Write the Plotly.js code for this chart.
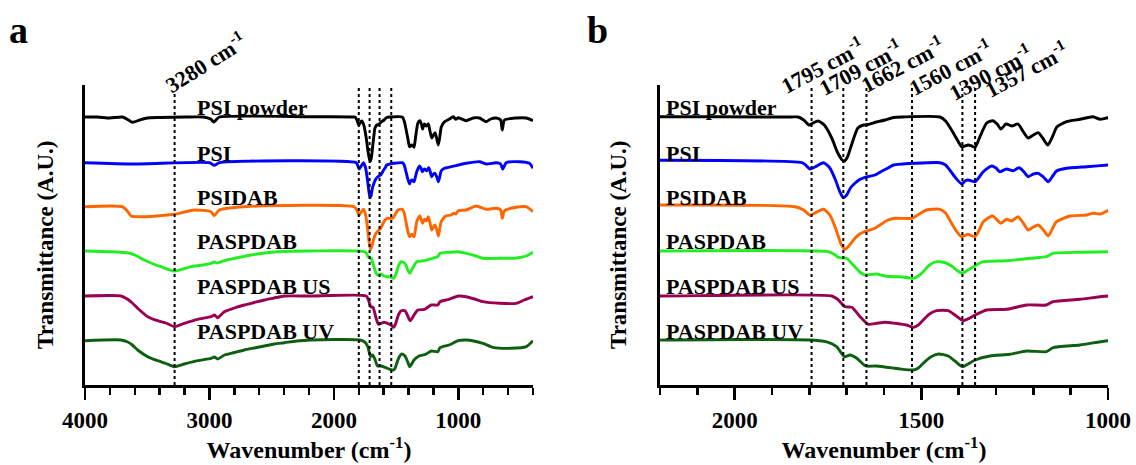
<!DOCTYPE html>
<html>
<head>
<meta charset="utf-8">
<script src="https://cdn.plot.ly/plotly-3.0.1.min.js"></script>
<style>html,body{margin:0;padding:0;background:#fff;}#chart{width:1136px;height:465px;}</style>
</head>
<body>
<div id="chart"></div>
<script>
// ---------------- DATA ----------------
const seriesNames = ['PSI powder', 'PSI', 'PSIDAB', 'PASPDAB', 'PASPDAB US', 'PASPDAB UV'];
const seriesColors = ['#000000', '#0000ff', '#ff6600', '#22ee22', '#990052', '#0f5f12'];

// Stacked transmittance (arbitrary units, already vertically offset as in the figure)
const wnPowder = [4000,3900,3800,3700,3650,3620,3560,3500,3400,3200,3050,2990,2966,2940,2920,2200,1850,1830,1815,1801,1790,1777,1760,1740,1725,1712,1706,1698,1688,1678,1670,1655,1643,1620,1597,1575,1550,1450,1435,1419,1405,1392,1383,1375,1365,1356,1343,1325,1309,1297,1287,1273,1258,1241,1228,1214,1200,1187,1175,1161,1148,1137,1111,1075,1040,1021,1000,937,880,830,776,740,695,660,647,629,535,455,400];
const tPowder  = [223,223,222,223,220,217.7,220,222,222.5,223,223,221,218,221,223,223.3,223,223,220,215,217,219,215,202,188,180,179,183,194,205,212,215,215.5,218,220,222.5,223,223,219,210,201,193.3,194,195,194,192.7,203.3,217,219.3,216,211,216,214,216,209,202,205,207.3,202,195,204,213,218.3,220.7,223.3,220.7,222.3,219.3,222,222,218.3,221,222,220,210,220,222,222,219.3];

const wnPSI = [4000,3600,3000,2961,2920,1820,1810,1798,1785,1762,1745,1730,1718,1709,1700,1690,1678,1665,1651,1624,1605,1589,1575,1550,1521,1450,1435,1424,1408,1392,1383,1375,1365,1356,1345,1334,1312,1300,1290,1272,1254,1238,1225,1214,1200,1187,1173,1160,1148,1138,1111,1057,1000,937,830,776,695,660,643,616,508,428,400];
const tPSI  = [177.3,176,177.3,174.7,177.3,177.3,175,171,173,177.3,172,160,148,142.3,145,152,156.7,160.5,162.7,165,169,172,175,176,176.7,177.3,175,170,162,156,159,160,159,158.3,163,168.3,174,172,168.3,171,169.3,172.3,168,163.3,166,166.7,163,158.3,164,169,171.7,173.3,175,176.7,178.3,176,177.3,176,171,177.3,178.3,176.7,171.7];

const wnPSIDAB = [4000,3700,3660,3630,3523,3400,3282,3121,2988,2961,2921,2720,1838,1815,1798,1785,1762,1745,1730,1715,1704,1692,1678,1665,1651,1624,1611,1589,1571,1527,1505,1486,1450,1435,1424,1408,1392,1375,1356,1345,1334,1309,1287,1272,1258,1241,1227,1214,1200,1187,1173,1160,1148,1138,1102,1057,1040,1020,1000,937,857,776,695,660,647,629,535,455,400];
const tPSIDAB  = [133.3,133.3,129,124,123.3,124.3,125.7,130,128.3,124.3,130,133.3,133.3,130,124.7,127,130.7,125,112,96,90.7,95,101.7,106,108.3,111.7,115,120,121.7,121.7,126,130,130.7,127,120,110,103.3,105.7,103.3,110,118.3,124,116.7,120.7,119,123.3,117,110,113,115,110,104,112,118.3,124,125,126.7,126,129.3,130,134,130.7,131.7,130,121.7,129.3,132.7,133.3,128.3];

const wnPASP = [4000,3800,3650,3600,3523,3450,3390,3282,3200,3149,3050,2988,2960,2940,2880,2767,2667,2560,2452,2200,1749,1735,1722,1710,1700,1690,1678,1665,1651,1635,1620,1597,1571,1557,1540,1521,1508,1495,1478,1459,1445,1432,1415,1406,1390,1375,1356,1334,1271,1209,1165,1147,1075,1000,937,870,803,669,535,455,400];
const tPASP  = [89,88.3,87,85,80,76,73.3,69,71.5,73.3,75,76.7,78,77,79.3,82.5,85,87,88.3,89,88.3,86,82.7,82,81.7,78,73.3,68,65,65.5,66,64,63.3,63.3,62.5,61.7,64,68.3,75,78.3,78,76.7,73,70,66.7,70,74.3,78.3,79.3,81.7,83.3,86.7,87.7,88.3,86.7,84.5,81.7,81.7,82,84,87.7];

const wnUS = [4000,3711,3657,3620,3577,3496,3416,3350,3282,3202,3095,2988,2960,2934,2880,2800,2720,2640,2559,2480,2398,2200,1740,1725,1704,1686,1664,1642,1620,1597,1571,1557,1540,1521,1508,1495,1478,1459,1428,1410,1388,1370,1356,1325,1271,1218,1165,1147,1075,1000,937,870,803,669,535,470,400];
const tUS  = [44,44,40.7,37,31.7,23.3,19.3,17,13.3,16.7,20.7,23.3,25,22.3,28.3,32,35,37.5,40,42,44,44,44,41,33.3,32.7,23.3,15.7,16.7,17.7,16.7,16,15,12.7,15,20,26,29.3,29.3,25,19.3,22,25,30,30.7,35,35,38.3,40.7,44,43.3,41,38.3,36.7,36.7,40,43.3];

const wnUV = [4000,3711,3657,3620,3577,3496,3416,3350,3282,3202,3095,2988,2960,2934,2880,2800,2720,2640,2559,2480,2398,2300,2184,1794,1749,1727,1706,1691,1673,1649,1620,1571,1557,1521,1508,1495,1475,1454,1428,1410,1390,1375,1356,1316,1263,1218,1165,1147,1075,1000,937,803,722,575,455,400];
const tUV  = [-0.7,0,-2,-5,-10,-16.7,-20.7,-23.5,-26.7,-24,-20.7,-18.3,-17,-19,-15,-12.5,-10,-8,-6,-4,-2.7,-1,0,0,-2.3,-6.7,-16.7,-15,-18.3,-26,-26,-28.3,-29,-30,-28,-23.3,-17,-14,-16,-21,-26.7,-24,-20,-16,-14.3,-11,-11.7,-7.7,-5,-0.7,0,-3.3,-7.3,-8.3,-6.7,-0.7];

const seriesWn = [wnPowder, wnPSI, wnPSIDAB, wnPASP, wnUS, wnUV];
const seriesT  = [tPowder, tPSI, tPSIDAB, tPASP, tUS, tUV];

// marked band positions (cm-1) and labels
const linesA = [3280, 1800, 1713, 1633, 1539];
const labelA = ['3280 cm<sup>-1</sup>'];
const linesB = [1794, 1709, 1647, 1525, 1390, 1356];
const labelsB = ['1795 cm<sup>-1</sup>', '1709 cm<sup>-1</sup>', '1662 cm<sup>-1</sup>', '1560 cm<sup>-1</sup>', '1390 cm<sup>-1</sup>', '1357 cm<sup>-1</sup>'];

// ---------------- CHART ----------------
const FONT = 'Liberation Serif, "Times New Roman", serif';
const W = 1136, H = 465;
const px = v => v / W, py = v => 1 - v / H;

const traces = [];
seriesNames.forEach((n, i) => {
  ['x', 'x2'].forEach((xa, k) => {
    traces.push({
      type: 'scatter', mode: 'lines', name: n,
      x: seriesWn[i], y: seriesT[i],
      xaxis: xa, yaxis: k ? 'y2' : 'y',
      line: {color: seriesColors[i], width: 2.9, shape: 'spline', smoothing: 0.6},
      hoverinfo: 'skip', showlegend: false
    });
  });
});

const shapes = [];
linesA.forEach((w, i) => shapes.push({type: 'line', xref: 'x', yref: 'y domain', x0: w, x1: w, y0: 0, y1: i === 0 ? 0.973 : 1.0,
  line: {color: '#000', width: 2, dash: 'dot'}}));
linesB.forEach(w => shapes.push({type: 'line', xref: 'x2', yref: 'y2 domain', x0: w, x1: w, y0: 0, y1: 0.99,
  line: {color: '#000', width: 2, dash: 'dot'}}));

const bold = (s) => ({family: FONT, size: s, color: '#000', weight: 'bold'});
const annotations = [];
// curve names
seriesNames.forEach((n, i) => {
  const base = seriesT[i][0];
  annotations.push({xref: 'paper', yref: 'y', x: px(195), y: base, xanchor: 'left', yanchor: 'bottom', yshift: -5,
    text: n, showarrow: false, font: bold(22)});
  annotations.push({xref: 'paper', yref: 'y2', x: px(664), y: base, xanchor: 'left', yanchor: 'bottom', yshift: -5,
    text: n, showarrow: false, font: bold(22)});
});
// panel letters
annotations.push({xref: 'paper', yref: 'paper', x: px(18), y: py(30), text: 'a', showarrow: false, font: bold(38), xanchor: 'center', yanchor: 'middle'});
annotations.push({xref: 'paper', yref: 'paper', x: px(597), y: py(30), text: 'b', showarrow: false, font: bold(38), xanchor: 'center', yanchor: 'middle'});
// y titles
annotations.push({xref: 'paper', yref: 'paper', x: px(45), y: py(245), text: 'Transmittance (A.U.)', textangle: -90, showarrow: false, font: bold(23), xanchor: 'center', yanchor: 'middle'});
annotations.push({xref: 'paper', yref: 'paper', x: px(618), y: py(245), text: 'Transmittance (A.U.)', textangle: -90, showarrow: false, font: bold(23), xanchor: 'center', yanchor: 'middle'});
// band labels
annotations.push({xref: 'paper', yref: 'paper', x: px(205), y: py(62), text: labelA[0], textangle: -32, showarrow: false, font: bold(22), xanchor: 'center', yanchor: 'middle'});
const centersB = [[822, 65], [860, 67], [902, 64], [950, 67], [990, 72], [1026, 69]];
labelsB.forEach((t, i) => annotations.push({xref: 'paper', yref: 'paper', x: px(centersB[i][0]), y: py(centersB[i][1]), text: t, textangle: -28,
  showarrow: false, font: bold(22), xanchor: 'center', yanchor: 'middle'}));

const xCommon = {
  showline: true, linecolor: '#000', linewidth: 3, mirror: false,
  ticks: 'outside', ticklen: 12, tickwidth: 2.5, tickcolor: '#000',
  showgrid: false, zeroline: false, tickfont: bold(23),
  title: {text: 'Wavenumber (cm<sup>-1</sup>)', font: bold(24), standoff: 8}
};
const yCommon = {
  showline: true, linecolor: '#000', linewidth: 3, ticks: '', showticklabels: false,
  showgrid: false, zeroline: false, range: [-45, 255], domain: [1 - 385 / H, 1 - 85 / H], fixedrange: true
};

const layout = {
  width: W, height: H, margin: {l: 0, r: 0, t: 0, b: 0},
  paper_bgcolor: '#fff', plot_bgcolor: '#fff', showlegend: false,
  xaxis: Object.assign({}, xCommon, {domain: [85 / W, 533 / W], range: [4000, 400], anchor: 'y', tick0: 0, dtick: 1000,
    minor: {tick0: 0, dtick: 200, ticks: 'outside', ticklen: 7, tickwidth: 2.5, tickcolor: '#000'}}),
  yaxis: Object.assign({}, yCommon, {anchor: 'x'}),
  xaxis2: Object.assign({}, xCommon, {domain: [660 / W, 1108 / W], range: [2200, 1000], anchor: 'y2', tick0: 0, dtick: 500,
    minor: {tick0: 0, dtick: 100, ticks: 'outside', ticklen: 7, tickwidth: 2.5, tickcolor: '#000'}}),
  yaxis2: Object.assign({}, yCommon, {anchor: 'x2'}),
  shapes: shapes, annotations: annotations
};

Plotly.newPlot('chart', traces, layout, {staticPlot: true, displayModeBar: false});
</script>
</body>
</html>
